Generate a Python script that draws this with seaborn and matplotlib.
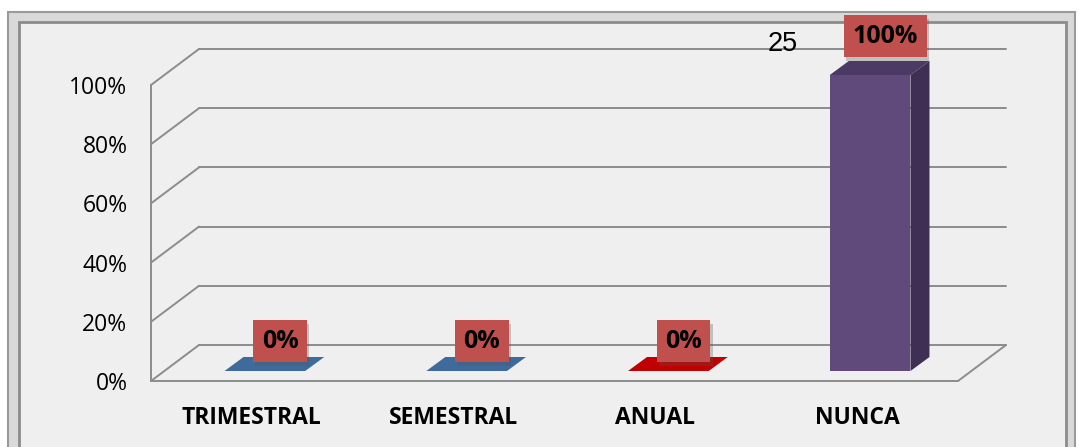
import matplotlib
matplotlib.use("Agg")
import matplotlib.pyplot as plt
from matplotlib.patches import Rectangle, Polygon
from matplotlib.transforms import ScaledTranslation
import matplotlib.patheffects as pe
import seaborn as sns
import pandas as pd

# ---- data ----
categories = ["TRIMESTRAL", "SEMESTRAL", "ANUAL", "NUNCA"]
percent = [0, 0, 0, 100]
value_labels = ["0%", "0%", "0%", "100%"]
nunca_count = "25"
ytick_values = [0, 20, 40, 60, 80, 100]
ytick_labels = ["0%", "20%", "40%", "60%", "80%", "100%"]

front_colors = ["#3E6A9C", "#3E6A9C", "#C00000", "#604A7B"]
side_colors = ["#2C4C72", "#2C4C72", "#8A0000", "#3F2F54"]
top_colors = ["#3E6A9C", "#3E6A9C", "#C00000", "#4B3A64"]

sns.set_style("white")
plt.rcParams["font.family"] = ["Open Sans", "DejaVu Sans"]
plt.rcParams["text.color"] = "black"
plt.rcParams["xtick.color"] = "black"
plt.rcParams["ytick.color"] = "black"

W, H = 1079, 447
fig = plt.figure(figsize=(W / 100, H / 100), dpi=100)
fig.patch.set_facecolor("white")


def fx(px):
    return px / W


def fy(py):
    return 1 - py / H


# ---- frame ----
fig.add_artist(Rectangle((fx(8), fy(460)), fx(1075) - fx(8), fy(12) - fy(460),
                         transform=fig.transFigure, facecolor="#d9d9d9",
                         edgecolor="#9a9a9a", lw=1.5, zorder=0))
fig.add_artist(Rectangle((fx(19), fy(460)), fx(1066) - fx(19), fy(22) - fy(460),
                         transform=fig.transFigure, facecolor="#efefef",
                         edgecolor="#8c8c8c", lw=2.0, zorder=0))

# ---- axes (front plane) ----
ax = fig.add_axes([fx(151), fy(381), fx(958) - fx(151), fy(85) - fy(381)])
ax.set_facecolor("none")

df = pd.DataFrame({"cat": categories, "pct": percent})
sns.barplot(data=df, x="cat", y="pct", hue="cat", palette=front_colors,
            width=0.4, legend=False, ax=ax, saturation=1, zorder=3)
ax.set_xlim(-0.5, 3.5)
ax.set_ylim(0, 100)

# depth offsets in data units
px_per_x = (958 - 151) / 4.0
px_per_y = (381 - 85) / 100.0
DX, DY = 48 / px_per_x, 36 / px_per_y          # full depth
FX, FYo = 13 / px_per_x, 10 / px_per_y         # bar front
BX, BY = 32 / px_per_x, 24 / px_per_y          # bar back

grid_color = "#8c8c8c"
lw = 1.4
# walls / gridlines
for v in ytick_values:
    ax.plot([-0.5, -0.5 + DX], [v, v + DY], color=grid_color, lw=lw, clip_on=False, zorder=1)
    ax.plot([-0.5 + DX, 3.5 + DX], [v + DY, v + DY], color=grid_color, lw=lw, clip_on=False, zorder=1)
ax.plot([-0.5, -0.5], [0, 100], color=grid_color, lw=lw, clip_on=False, zorder=1)
ax.plot([-0.5, 3.5], [0, 0], color=grid_color, lw=lw, clip_on=False, zorder=1)
ax.plot([3.5, 3.5 + DX], [0, DY], color=grid_color, lw=lw, clip_on=False, zorder=1)

# 3D-look bars
shift = ScaledTranslation(13 / 100, 10 / 100, fig.dpi_scale_trans)
for i, p in enumerate(ax.patches):
    x0 = p.get_x()
    x1 = x0 + p.get_width()
    h = p.get_height()
    p.set_transform(ax.transData + shift)
    p.set_edgecolor("none")
    p.set_clip_on(False)
    top = Polygon([(x0 + FX, h + FYo), (x1 + FX, h + FYo), (x1 + BX, h + BY), (x0 + BX, h + BY)],
                  closed=True, facecolor=top_colors[i], edgecolor="none", zorder=4, clip_on=False)
    ax.add_patch(top)
    if h > 0:
        side = Polygon([(x1 + FX, FYo), (x1 + BX, BY), (x1 + BX, h + BY), (x1 + FX, h + FYo)],
                       closed=True, facecolor=side_colors[i], edgecolor="none", zorder=4, clip_on=False)
        ax.add_patch(side)

# value labels in red boxes
for i, (v, lab) in enumerate(zip(percent, value_labels)):
    t = ax.text(i + 0.14, v * 1.03 + 13.5, lab, ha="center", va="center",
                fontsize=18, fontweight="bold", color="black", zorder=6, clip_on=False,
                bbox=dict(boxstyle="square,pad=0.34", facecolor="#C0504D", edgecolor="none"))
    t.get_bbox_patch().set_path_effects([
        pe.SimplePatchShadow(offset=(1.5, -2.5), shadow_rgbFace="#555555", alpha=0.3),
        pe.Normal()])

# stray count label
ax.text(3 - 0.37, percent[3] + 14, nunca_count, ha="center", va="center",
        fontsize=19.5, family="Liberation Sans", color="black", zorder=6, clip_on=False)

# ticks
ax.set_yticks(ytick_values)
ax.set_yticklabels(ytick_labels, fontsize=16.5, color="black")
ax.tick_params(axis="y", length=0, pad=17)
ax.tick_params(axis="x", length=0, pad=18)
for t in ax.get_xticklabels():
    t.set_fontweight("bold")
    t.set_fontsize(16.5)
    t.set_color("black")
ax.set_xlabel("")
ax.set_ylabel("")
for s in ax.spines.values():
    s.set_visible(False)

fig.savefig("out.png", dpi=100)
